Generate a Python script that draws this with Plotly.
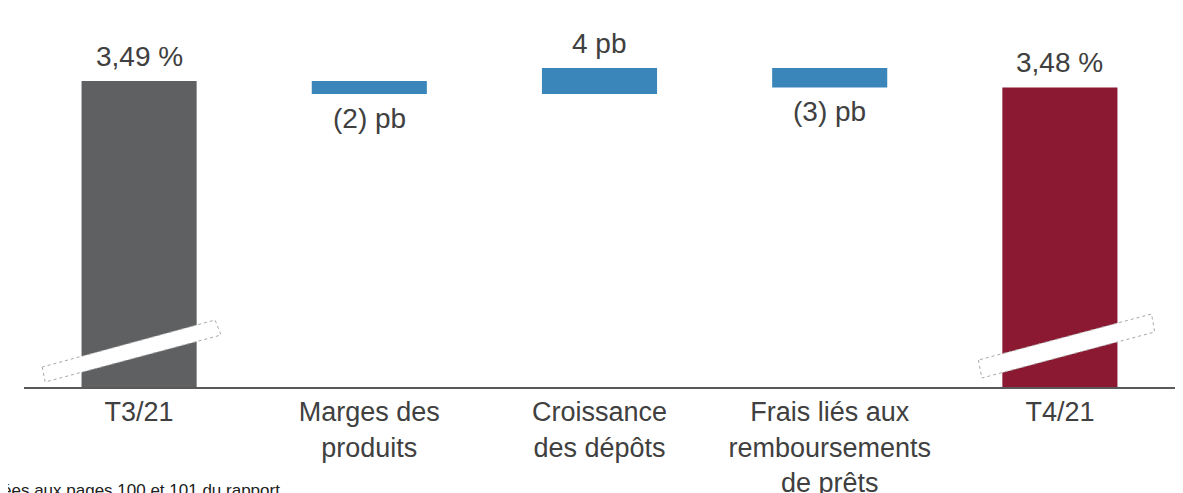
import plotly.graph_objects as go

# ---- data ----
categories = ["T3/21", "Marges des<br>produits", "Croissance<br>des dépôts",
              "Frais liés aux<br>remboursements<br>de prêts", "T4/21"]
start_value = 3.49          # %
end_value = 3.48            # %
deltas_bp = [-2, 4, -3]     # points de base
start_label = "3,49 %"
end_label = "3,48 %"
delta_labels = ["(2) pb", "4 pb", "(3) pb"]
footnote = "ées aux pages 100 et 101 du rapport"

# ---- styles ----
GRAY = "#5e6062"
BLUE = "#3a86bb"
RED = "#8a1931"
TXT = "#404040"
FONT = "Liberation Sans, Arial, sans-serif"

Y_MIN, Y_MAX = 3.019, 3.553      # broken axis window
PX_PER_UNIT = 650                # pixels per 1 % on the y axis

# waterfall geometry from data
bases, heights = [0], [start_value]
running = start_value
for d in deltas_bp:
    bases.append(running)
    heights.append(d / 100)
    running += d / 100
bases.append(0)
heights.append(end_value)
colors = [GRAY] + [BLUE] * len(deltas_bp) + [RED]

fig = go.Figure(go.Bar(
    x=categories, y=heights, base=bases,
    marker=dict(color=colors, line=dict(width=0)),
    width=0.5, hoverinfo="skip", showlegend=False,
))

# labels
ann = []
def lab(i, yv, text, above):
    ann.append(dict(x=categories[i], y=yv, xref="x", yref="y", text=text,
                    showarrow=False, yanchor="bottom" if above else "top",
                    yshift=7 if above else -7,
                    font=dict(family=FONT, size=28, color=TXT)))

lab(0, start_value, start_label, True)
running = start_value
for k, d in enumerate(deltas_bp):
    new = running + d / 100
    lab(k + 1, new, delta_labels[k], d >= 0)
    running = new
lab(len(categories) - 1, end_value, end_label, True)

ann.append(dict(x=0, y=0, xref="paper", yref="paper", xanchor="left", yanchor="top",
                xshift=-24, yshift=-92, text=footnote, showarrow=False,
                font=dict(family=FONT, size=17, color="#202020")))

# axis-break strips (decoration), offsets in category units / pixels from the axis bottom
def yv(px_above_axis):
    return Y_MIN + px_above_axis / PX_PER_UNIT

def strip(ci, pts):
    path = "M " + " L ".join(f"{ci + dx},{yv(py)}" for dx, py in pts) + " Z"
    return dict(type="path", xref="x", yref="y", path=path, fillcolor="white",
                line=dict(color="#a8a8a8", width=1, dash="dot"), layer="above")

shapes = [
    strip(0, [(-0.421, 20), (-0.408, 5), (0.356, 52), (0.330, 67)]),
    strip(4, [(-0.354, 27), (-0.339, 9), (0.412, 55), (0.398, 73)]),
]

# page body has an 8 px margin: figure is sized/margined to compensate
fig.update_layout(
    width=1175, height=485,
    margin=dict(l=16, r=8, t=32, b=106, autoexpand=False),
    plot_bgcolor="white", paper_bgcolor="white",
    bargap=0.5,
    annotations=ann, shapes=shapes,
    xaxis=dict(type="category", range=[-0.5, 4.5], showline=True, linecolor="#595959",
               linewidth=2, ticks="", showgrid=False, zeroline=False, automargin=False,
               tickfont=dict(family=FONT, size=27, color=TXT)),
    yaxis=dict(range=[Y_MIN, Y_MAX], visible=False, showgrid=False, zeroline=False,
               automargin=False),
)

fig.write_html("out.html")
